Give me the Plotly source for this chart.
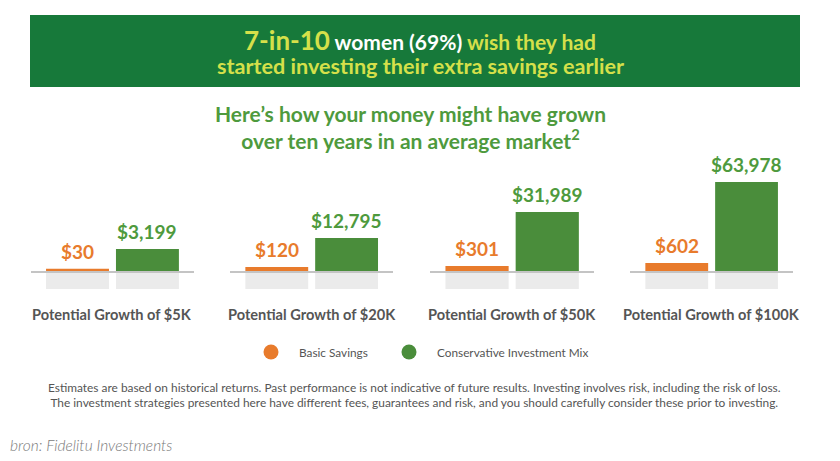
import math
import plotly.graph_objects as go

# ---- data ----
groups = ["Potential Growth of $5K", "Potential Growth of $20K",
          "Potential Growth of $50K", "Potential Growth of $100K"]
series_names = ["Basic Savings", "Conservative Investment Mix"]
basic_savings = [30, 120, 301, 602]
conservative_mix = [3199, 12795, 31989, 63978]

ORANGE = "#e87b2c"
GREEN = "#4a8d3b"
LABEL_GREEN = "#4e9a3d"
FONT = "Lato"

# per-panel layout (positions/styles only)
x_domains = [(0.0365, 0.2313), (0.2738, 0.4683), (0.5119, 0.7075), (0.7500, 0.9444)]
y_domain = (1 - 271 / 461, 1 - 160 / 461)
y_ranges = [(1.2403, 12.667), (1.7995, 9.5615), (2.2910, 6.456), (2.5795, 5.3565)]

fig = go.Figure()
layout = {}
shapes = []
annotations = []

for i, g in enumerate(groups):
    ax = "" if i == 0 else str(i + 1)
    vals = [basic_savings[i], conservative_mix[i]]
    fig.add_trace(go.Bar(
        x=series_names, y=vals,
        marker=dict(color=[ORANGE, GREEN], line=dict(width=0)),
        width=0.9,
        showlegend=False,
        xaxis="x" + ax, yaxis="y" + ax,
        hoverinfo="skip",
    ))
    for j, v in enumerate(vals):
        annotations.append(dict(
            text=f"${v:,}", xref="x" + ax, yref="y" + ax,
            x=series_names[j], y=math.log10(v), xanchor="center", yanchor="bottom",
            yshift=4, showarrow=False,
            font=dict(family=FONT, size=19, color=[ORANGE, LABEL_GREEN][j], weight="bold"),
        ))
    layout["xaxis" + ax] = dict(
        domain=list(x_domains[i]), anchor="y" + ax,
        range=[-0.67, 1.67], showticklabels=False, ticks="",
        showgrid=False, zeroline=False,
        showline=True, linecolor="#c4c4c4", linewidth=2,
        fixedrange=True,
    )
    layout["yaxis" + ax] = dict(
        domain=list(y_domain), anchor="x" + ax, type="log",
        range=list(y_ranges[i]), showticklabels=False, ticks="",
        showgrid=False, zeroline=False, showline=False, fixedrange=True,
    )
    # shadow blocks below the baseline
    for j in range(2):
        shapes.append(dict(
            type="rect", xref="x" + ax, yref="paper",
            x0=j - 0.45, x1=j + 0.45,
            y0=1 - 289 / 461, y1=1 - 272 / 461,
            fillcolor="#ebebeb", line=dict(width=0), layer="below",
        ))
    annotations.append(dict(
        text=g, xref="x" + ax + " domain", x=0.5, xanchor="center",
        yref="paper", y=1 - 314 / 461, yanchor="middle", showarrow=False,
        font=dict(family=FONT, size=14.6, color="#555555", weight="bold"),
    ))

# legend entries (one legend per series so each can be placed)
fig.add_trace(go.Scatter(x=[None], y=[None], mode="markers", name=series_names[0],
                         marker=dict(symbol="circle", size=15, color=ORANGE), legend="legend"))
fig.add_trace(go.Scatter(x=[None], y=[None], mode="markers", name=series_names[1],
                         marker=dict(symbol="circle", size=15, color=GREEN), legend="legend2"))

# banner
shapes.append(dict(type="rect", xref="paper", yref="paper",
                   x0=30 / 840, x1=800 / 840, y0=1 - 87 / 461, y1=1 - 15 / 461,
                   fillcolor="#17793a", line=dict(width=0), layer="below"))
YG = "#d5e04a"
annotations.append(dict(
    text=(f"<span style='font-size:26px;color:{YG}'>7-in-10</span> "
          f"<span style='color:#ffffff'>women (69%)</span> "
          f"<span style='color:{YG}'>wish they had</span>"),
    xref="paper", yref="paper", x=0.5, y=1 - 40 / 461, xanchor="center", yanchor="middle",
    showarrow=False, font=dict(family=FONT, size=21, color=YG, weight="bold")))
annotations.append(dict(
    text="started investing their extra savings earlier",
    xref="paper", yref="paper", x=0.5, y=1 - 66 / 461, xanchor="center", yanchor="middle",
    showarrow=False, font=dict(family=FONT, size=21.6, color=YG, weight="bold")))

# subtitle
annotations.append(dict(
    text="Here’s how your money might have grown<br>over ten years in an average market<sup>2</sup>",
    xref="paper", yref="paper", x=410 / 840, y=1 - 127 / 461, xanchor="center", yanchor="middle",
    showarrow=False, align="center",
    font=dict(family=FONT, size=21, color="#4e9a3d", weight="bold")))

# disclaimer
annotations.append(dict(
    text=("Estimates are based on historical returns. Past performance is not indicative of future results. "
          "Investing involves risk, including the risk of loss.<br>"
          "The investment strategies presented here have different fees, guarantees and risk, "
          "and you should carefully consider these prior to investing."),
    xref="paper", yref="paper", x=414 / 840, y=1 - 395 / 461, xanchor="center", yanchor="middle",
    showarrow=False, align="center",
    font=dict(family=FONT, size=11.9, color="#555555")))

# source
annotations.append(dict(
    text="<i>bron: Fidelitu Investments</i>",
    xref="paper", yref="paper", x=8 / 840, y=1 - 445 / 461, xanchor="left", yanchor="middle",
    showarrow=False, font=dict(family=FONT, size=15.5, color="#7a7a7a", weight=300)))

legend_style = dict(orientation="h", xanchor="left", y=1 - 352 / 461, yanchor="middle",
                    font=dict(family=FONT, size=11.8, color="#555555"),
                    itemsizing="trace", itemwidth=46, bgcolor="rgba(0,0,0,0)")

fig.update_layout(
    width=840, height=461,
    margin=dict(l=0, r=0, t=0, b=0),
    paper_bgcolor="#ffffff", plot_bgcolor="rgba(0,0,0,0)",
    showlegend=True,
    legend=dict(x=243 / 840, **legend_style),
    legend2=dict(x=381 / 840, **legend_style),
    shapes=shapes, annotations=annotations,
    **layout,
)

fig.write_html("out.html", config={"displayModeBar": False},
               post_script="document.body.style.margin='0';document.body.style.overflow='hidden';")
